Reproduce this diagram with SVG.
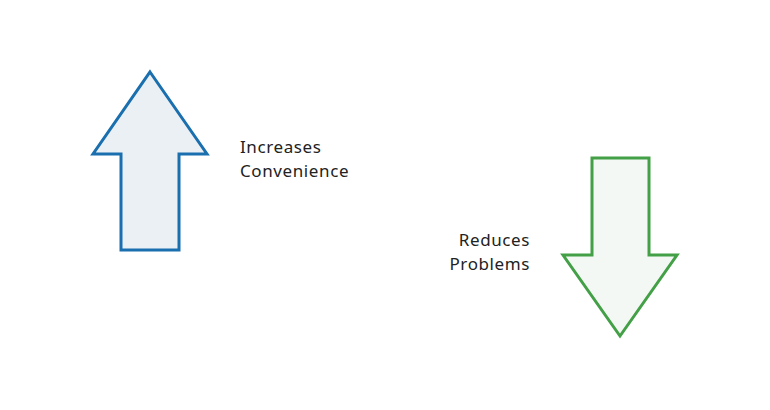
<svg xmlns="http://www.w3.org/2000/svg" width="770" height="410" viewBox="0 0 770 410">
<style>
.lbl{font-family:"Noto Sans","Open Sans",sans-serif;font-size:17px;letter-spacing:0.6px;fill:#222222}
.up{fill:#ebf0f5;stroke:#1a6faf;stroke-width:3}
.down{fill:#f4f8f4;stroke:#43a047;stroke-width:3}
</style>
<rect width="770" height="410" fill="#ffffff"/>
<g id="up-arrow">
<polygon class="up" points="150,72 207,154 179,154 179,250 121,250 121,154 93,154"/>
<text class="lbl" x="240" y="153">Increases</text>
<text class="lbl" x="240" y="177">Convenience</text>
</g>
<g id="down-arrow">
<polygon class="down" points="592,158 649,158 649,255 677,255 620,336 563,255 592,255"/>
<text class="lbl" x="530" y="246" text-anchor="end">Reduces</text>
<text class="lbl" x="530" y="270" text-anchor="end">Problems</text>
</g>
<g id="connectors"></g>
</svg>
